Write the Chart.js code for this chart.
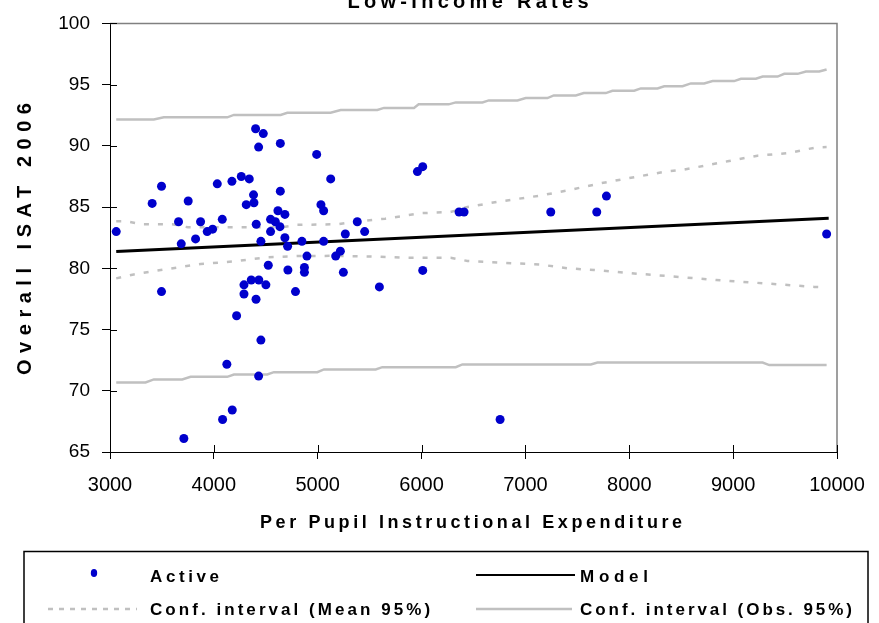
<!DOCTYPE html>
<html>
<head>
<meta charset="utf-8">
<title>Low-Income Rates</title>
<script src="https://cdn.jsdelivr.net/npm/chart.js@4.4.1/dist/chart.umd.min.js"></script>
<style>
  html, body { margin: 0; padding: 0; background: #fff; }
</style>
</head>
<body>
<canvas id="chart" width="879" height="623"></canvas>
<script>
// per pupil instructional expenditure vs overall ISAT 2006
const expenditure = [3060, 3406, 3496, 3660, 3686, 3753, 3824, 3872, 3936, 3988,
  4033, 4081, 4174, 4264, 4341, 4382, 4312, 4386, 4402, 4476,
  4431, 4408, 4453, 4546, 4592, 4636, 4617, 4684, 4640, 4640,
  4546, 4684, 4710, 4848, 4896, 5057, 4990, 5125, 5031, 5057,
  5173, 5218, 5266, 5381, 5452, 5960, 6011, 6361, 6409, 7244,
  7687, 7780, 9900, 4524, 4713, 4872, 4872, 5247, 5594, 6011,
  3496, 4290, 4360, 4433, 4501, 4290, 4406, 4786, 4219, 4453,
  4125, 4431, 4177, 4084, 3711, 6756];
const isatScore = [83.0, 85.3, 86.7, 83.8, 82.0, 85.5, 82.4, 83.8, 83.0, 83.2,
  86.9, 84.0, 87.1, 87.5, 87.3, 86.0, 85.2, 85.35, 91.4, 91.0,
  89.9, 83.6, 82.2, 84.0, 83.8, 83.4, 84.7, 84.4, 90.2, 86.3,
  83.0, 82.5, 81.8, 82.2, 81.0, 82.2, 89.3, 87.3, 85.2, 84.7,
  81.0, 81.4, 82.8, 83.8, 83.0, 87.9, 88.3, 84.6, 84.6, 84.6,
  84.6, 85.9, 82.8, 80.25, 79.86, 80.07, 79.67, 79.67, 78.48, 79.83,
  78.1, 78.65, 79.05, 79.05, 78.65, 77.9, 77.47, 78.1, 76.13, 74.14,
  72.17, 71.2, 68.43, 67.65, 66.1, 67.65];

const modelLine = [[3060, 81.37], [9920, 84.08]];

const meanUpper = [[3060, 83.85], [3150, 83.85], [3300, 83.6], [3600, 83.6], [3750, 83.35],
  [4650, 83.35], [4800, 83.55], [5200, 83.6], [5400, 83.85], [5650, 84.05], [5990, 84.5],
  [6280, 84.6], [6441, 85.0], [6730, 85.43], [7151, 85.95], [7405, 86.36], [7726, 86.95],
  [8047, 87.44], [8368, 87.92], [8529, 88.06], [8946, 88.74], [9235, 89.2], [9524, 89.4],
  [9797, 89.87], [9900, 89.9]];
const meanLower = [[3060, 79.18], [3228, 79.5], [3549, 79.94], [3872, 80.35], [4193, 80.56],
  [4514, 80.9], [4800, 81.0], [5157, 81.02], [5600, 80.95], [5864, 80.86], [6280, 80.86],
  [6441, 80.6], [7151, 80.3], [7405, 80.0], [7662, 79.86], [8047, 79.58], [8529, 79.26],
  [8837, 79.05], [9500, 78.65], [9781, 78.48], [9900, 78.45]];

const obsUpper = [[3060, 92.15], [3422, 92.15], [3518, 92.33], [4129, 92.33], [4193, 92.53],
  [4643, 92.53], [4707, 92.7], [5124, 92.7], [5221, 92.93], [5574, 92.93], [5638, 93.1],
  [5927, 93.1], [5972, 93.39], [6261, 93.39], [6329, 93.55], [6586, 93.55], [6647, 93.71],
  [6923, 93.71], [7003, 93.9], [7212, 93.9], [7273, 94.12], [7485, 94.12], [7562, 94.31],
  [7774, 94.31], [7838, 94.5], [8047, 94.5], [8111, 94.69], [8272, 94.69], [8336, 94.87],
  [8513, 94.87], [8593, 95.1], [8721, 95.1], [8802, 95.29], [9010, 95.29], [9075, 95.48],
  [9219, 95.48], [9284, 95.66], [9428, 95.66], [9492, 95.88], [9621, 95.88], [9701, 96.07],
  [9829, 96.07], [9900, 96.24]];
const obsLower = [[3060, 70.68], [3342, 70.68], [3422, 70.93], [3695, 70.93], [3776, 71.14],
  [4129, 71.14], [4193, 71.33], [4514, 71.33], [4578, 71.52], [4996, 71.52], [5060, 71.74],
  [5558, 71.74], [5622, 71.93], [6329, 71.93], [6393, 72.15], [7630, 72.15], [7694, 72.3],
  [9284, 72.3], [9348, 72.1], [9900, 72.1]];

const xTicks = [3000, 4000, 5000, 6000, 7000, 8000, 9000, 10000];
const yTicks = [65, 70, 75, 80, 85, 90, 95, 100];

const toXY = pts => pts.map(p => ({x: p[0], y: p[1]}));

// draw text stretched out to a given width, like the spaced-out Excel labels
function spacedText(ctx, text, x, y, width, align) {
  ctx.letterSpacing = '0px';
  const natural = ctx.measureText(text).width;
  const gap = (width - natural) / Math.max(text.length - 1, 1);
  const left = align === 'center' ? x - width / 2 : x;
  ctx.textAlign = 'left';
  ctx.letterSpacing = gap.toFixed(2) + 'px';
  ctx.fillText(text, left, y);
  ctx.letterSpacing = '0px';
}

const decor = {
  id: 'decor',
  afterDatasetsDraw(chart) {
    const {ctx, chartArea: a, scales: {x, y}} = chart;
    ctx.save();
    ctx.strokeStyle = '#808080';
    ctx.lineWidth = 1.5;
    ctx.beginPath();
    ctx.moveTo(a.left, a.top);
    ctx.lineTo(a.right, a.top);
    ctx.lineTo(a.right, a.bottom);
    ctx.stroke();
    // ticks cross the axis lines
    ctx.strokeStyle = '#000';
    ctx.lineWidth = 1;
    ctx.beginPath();
    yTicks.forEach(v => {
      const py = Math.round(y.getPixelForValue(v)) + 0.5;
      ctx.moveTo(a.left, py);
      ctx.lineTo(a.left + 7, py);
    });
    xTicks.forEach(v => {
      const px = Math.round(x.getPixelForValue(v)) + 0.5;
      ctx.moveTo(px, a.bottom);
      ctx.lineTo(px, a.bottom - 7);
    });
    ctx.stroke();
    ctx.restore();
  },
  afterDraw(chart) {
    const ctx = chart.ctx;
    const ds = chart.data.datasets;
    ctx.save();
    ctx.fillStyle = '#000';
    ctx.textBaseline = 'alphabetic';

    ctx.font = 'bold 20px "Liberation Sans", Arial, sans-serif';
    spacedText(ctx, 'Low-Income Rates', 468, 8, 241, 'center');

    ctx.font = 'bold 18px "Liberation Sans", Arial, sans-serif';
    spacedText(ctx, 'Per Pupil Instructional Expenditure', 471, 528, 422, 'center');

    ctx.save();
    ctx.translate(31, 239);
    ctx.rotate(-Math.PI / 2);
    ctx.font = 'bold 20px "Liberation Sans", Arial, sans-serif';
    spacedText(ctx, 'Overall ISAT 2006', 0, 0, 272, 'center');
    ctx.restore();

    // legend box
    ctx.strokeStyle = '#000';
    ctx.lineWidth = 1.5;
    ctx.strokeRect(24, 551.5, 844, 100);

    ctx.fillStyle = '#0000cc';
    ctx.beginPath();
    ctx.ellipse(94, 573, 3.2, 4, 0, 0, Math.PI * 2);
    ctx.fill();

    ctx.lineWidth = 2;
    ctx.strokeStyle = '#000';
    ctx.beginPath();
    ctx.moveTo(476, 575);
    ctx.lineTo(575, 575);
    ctx.stroke();

    ctx.strokeStyle = '#c0c0c0';
    ctx.lineWidth = 2.5;
    ctx.setLineDash([5, 6]);
    ctx.beginPath();
    ctx.moveTo(48, 609);
    ctx.lineTo(137, 609);
    ctx.stroke();
    ctx.setLineDash([]);
    ctx.beginPath();
    ctx.moveTo(476, 609);
    ctx.lineTo(572, 609);
    ctx.stroke();

    ctx.fillStyle = '#000';
    ctx.font = 'bold 17px "Liberation Sans", Arial, sans-serif';
    spacedText(ctx, ds[0].label, 150, 582, 69, 'left');
    spacedText(ctx, ds[1].label, 580, 582, 68, 'left');
    spacedText(ctx, ds[2].label, 150, 615, 280, 'left');
    spacedText(ctx, ds[4].label, 580, 615, 272, 'left');
    ctx.restore();
  }
};

const lineStyle = {showLine: true, pointRadius: 0, pointHoverRadius: 0, tension: 0, fill: false};

new Chart(document.getElementById('chart'), {
  type: 'scatter',
  data: {
    datasets: [
      {
        label: 'Active',
        data: expenditure.map((v, i) => ({x: v, y: isatScore[i]})),
        backgroundColor: '#0000cc',
        borderColor: '#0000cc',
        pointRadius: 4.5,
        borderWidth: 0,
        order: 0
      },
      Object.assign({label: 'Model', data: toXY(modelLine), borderColor: '#000', borderWidth: 3, order: 1}, lineStyle),
      Object.assign({label: 'Conf. interval (Mean 95%)', data: toXY(meanUpper), borderColor: '#c0c0c0', borderWidth: 2.5, borderDash: [5, 9], order: 2}, lineStyle),
      Object.assign({label: 'Conf. interval (Mean 95%)', data: toXY(meanLower), borderColor: '#c0c0c0', borderWidth: 2.5, borderDash: [5, 9], order: 2}, lineStyle),
      Object.assign({label: 'Conf. interval (Obs. 95%)', data: toXY(obsUpper), borderColor: '#c0c0c0', borderWidth: 2.5, order: 3}, lineStyle),
      Object.assign({label: 'Conf. interval (Obs. 95%)', data: toXY(obsLower), borderColor: '#c0c0c0', borderWidth: 2.5, order: 3}, lineStyle)
    ]
  },
  options: {
    responsive: false,
    animation: false,
    layout: {padding: {top: 21, right: 42, left: 0, bottom: 0}},
    plugins: {legend: {display: false}, tooltip: {enabled: false}},
    scales: {
      x: {
        type: 'linear',
        min: 3000,
        max: 10000,
        afterBuildTicks: s => { s.ticks = xTicks.map(v => ({value: v})); },
        afterFit: s => { s.height = 171; },
        ticks: {color: '#000', padding: 14, maxRotation: 0,
          callback: v => String(v),
          font: {family: '"Liberation Sans", Arial, sans-serif', size: 20}},
        grid: {drawOnChartArea: false, color: '#000', tickLength: 7},
        border: {color: '#000', width: 1}
      },
      y: {
        type: 'linear',
        min: 65,
        max: 100,
        afterBuildTicks: s => { s.ticks = yTicks.map(v => ({value: v})); },
        afterFit: s => { s.width = 110; },
        ticks: {color: '#000', padding: 12,
          callback: v => String(v),
          font: {family: '"Liberation Sans", Arial, sans-serif', size: 19}},
        grid: {drawOnChartArea: false, color: '#000', tickLength: 8},
        border: {color: '#000', width: 1}
      }
    }
  },
  plugins: [decor]
});
</script>
</body>
</html>
